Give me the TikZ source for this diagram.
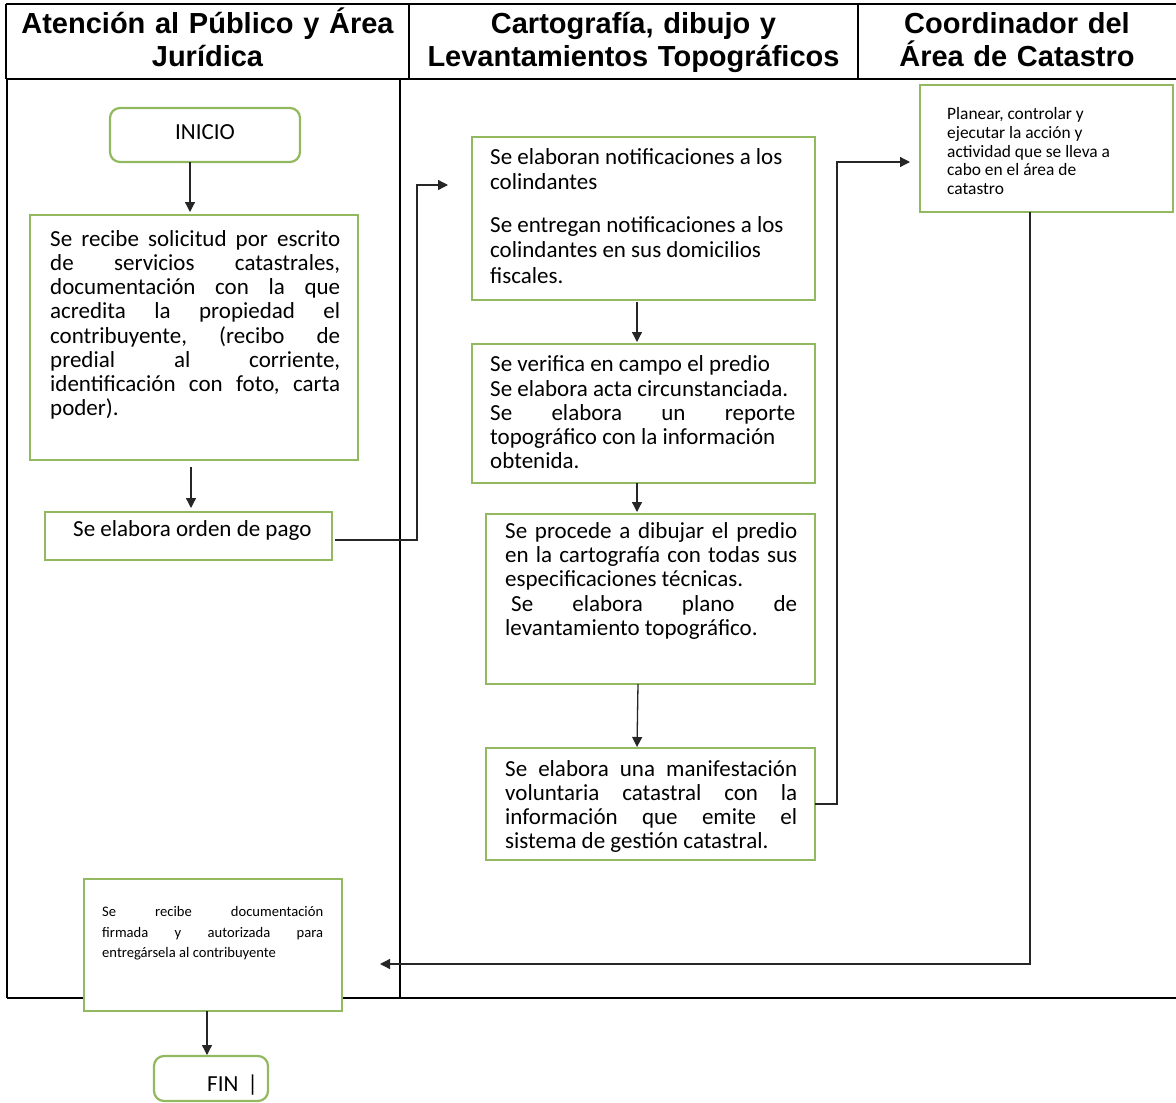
\documentclass[tikz,border=0pt]{standalone}
\usepackage{fontspec}
\setmainfont{Carlito}
\newfontfamily\hdrfont{Liberation Sans}
\usetikzlibrary{arrows.meta}
\definecolor{gboxc}{RGB}{146,184,96}
\newcommand\jl[2]{\makebox[#1][s]{#2}}
\newcommand\topstr[1]{\spaceskip=0pt\relax\xspaceskip=0pt\relax\frenchspacing\rule{0pt}{#1}}
\tikzset{
  gbox/.style={draw=gboxc, line width=2.2pt, fill=white, inner sep=0pt, outer sep=0pt, anchor=north west},
  rbox/.style={gbox, rounded corners=10pt},
  txt/.style={inner sep=0pt, anchor=north west, align=left, text width=360pt, font=\fontsize{23}{24.2}\selectfont},
  hdr/.style={inner sep=0pt, anchor=north, align=center, font=\hdrfont\bfseries\fontsize{29}{33}\selectfont},
  arr/.style={draw=black!85, line width=1.3pt, -{Triangle[length=10pt,width=10pt]}},
  lane/.style={line width=1.3pt},
  hline/.style={line width=2.5pt},
}
\begin{document}
\begin{tikzpicture}[x=1pt,y=-1pt]
\useasboundingbox (0,0) rectangle (1176,1103);
\fill[white] (0,0) rectangle (1176,1103);
% header
\draw[hline] (6,4) -- (1176,4);
\draw[hline] (6,79) -- (1176,79);
\draw[hline] (6,4) -- (6,79);
\draw[hline] (409,4) -- (409,79);
\draw[hline] (858,4) -- (858,79);
\node[hdr, text width=395pt] (h1) at (207.5,5) {\rule{0pt}{28pt}Atención al Público y Área\\Jurídica};
\node[hdr, text width=440pt] (h2) at (633.5,5) {\rule{0pt}{28pt}Cartografía, dibujo y\\Levantamientos Topográficos};
\node[hdr, text width=310pt] (h3) at (1017,5) {\rule{0pt}{28pt}Coordinador del\\Área de Catastro};
% lanes
\draw[lane] (7,79) -- (7,998);
\draw[lane] (400,79) -- (400,998);
\draw[lane] (7,998) -- (1176,998);
% boxes
\node[rbox, minimum width=190pt, minimum height=54pt] (n1) at (110,108) {};
\node[anchor=base, inner sep=0pt, font=\fontsize{23}{24}\selectfont] (tn1) at (205,139) {INICIO};
\node[gbox, minimum width=328pt, minimum height=245pt] (b2) at (30,215) {};
\node[txt] (t2) at (50,226) {\topstr{20pt}\jl{290pt}{Se recibe solicitud por escrito}\\
\jl{290pt}{de servicios catastrales,}\\
\jl{290pt}{documentación con la que}\\
\jl{290pt}{acredita la propiedad el}\\
\jl{290pt}{contribuyente, (recibo de}\\
\jl{290pt}{predial al corriente,}\\
\jl{290pt}{identificación con foto, carta}\\
poder).};
\node[gbox, minimum width=287pt, minimum height=48pt] (b3) at (45,512) {};
\node[anchor=base west, inner sep=0pt, font=\fontsize{23}{24}\selectfont] (t3) at (73,536) {Se elabora orden de pago};
\node[gbox, minimum width=343pt, minimum height=163pt] (b4) at (472,137) {};
\node[txt, font=\fontsize{23}{25.5}\selectfont] (t4) at (490,144) {\topstr{20pt}Se elaboran notificaciones a los\\
colindantes\\[17pt]
Se entregan notificaciones a los\\
colindantes en sus domicilios\\
fiscales.};
\node[gbox, minimum width=343pt, minimum height=139pt] (b5) at (472,344) {};
\node[txt] (t5) at (490,351.7) {\topstr{20pt}Se verifica en campo el predio\\
Se elabora acta circunstanciada.\\
\jl{305pt}{Se elabora un reporte}\\
topográfico con la información\\
obtenida.};
\node[gbox, minimum width=329pt, minimum height=170pt] (b6) at (486,514) {};
\node[txt] (t6) at (505,518.3) {\topstr{20pt}\jl{292pt}{Se procede a dibujar el predio}\\
\jl{292pt}{en la cartografía con todas sus}\\
especificaciones técnicas.\\
\jl{292pt}{\hspace{6pt}Se elabora plano de}\\
levantamiento topográfico.};
\node[gbox, minimum width=329pt, minimum height=112pt] (b7) at (486,748) {};
\node[txt] (t7) at (505,756) {\topstr{20pt}\jl{292pt}{Se elabora una manifestación}\\
\jl{292pt}{voluntaria catastral con la}\\
\jl{292pt}{información que emite el}\\
sistema de gestión catastral.};
\node[gbox, minimum width=253pt, minimum height=127pt] (b8) at (920,85) {};
\node[txt, font=\fontsize{17.4}{18.75}\selectfont] (t8) at (947,103.3) {\topstr{16pt}Planear, controlar y\\
ejecutar la acción y\\
actividad que se lleva a\\
cabo en el área de\\
catastro};
\node[gbox, minimum width=258pt, minimum height=132pt] (b9) at (84,879) {};
\node[txt, font=\fontsize{14.6}{20.3}\selectfont] (t9) at (102,902.7) {\topstr{14pt}\jl{221pt}{Se recibe documentación}\\
\jl{221pt}{firmada y autorizada para}\\
entregársela al contribuyente};
\node[rbox, minimum width=114pt, minimum height=45pt] (fin) at (154,1056) {};
\node[anchor=base west, inner sep=0pt, font=\fontsize{23}{24}\selectfont] (tfin) at (207,1091) {FIN\hspace{9pt}|};
% connectors
\draw[arr] ([xshift=-15pt]n1.south) -- ([xshift=-4pt,yshift=3pt]b2.north);
\draw[arr] ([xshift=-3pt,yshift=-7pt]b2.south) -- ([xshift=2.5pt,yshift=4pt]b3.north);
\draw[arr] ([xshift=3pt,yshift=-4pt]b3.east) -| ([xshift=-55pt,yshift=33.5pt]b4.west) -- ([xshift=-24pt,yshift=33.5pt]b4.west);
\draw[arr] ([xshift=-6.5pt,yshift=-2pt]b4.south) -- ([xshift=-6.5pt,yshift=2pt]b5.north);
\draw[arr] ([xshift=-6.5pt]b5.south) -- ([xshift=-13.5pt,yshift=2pt]b6.north);
\draw[arr] ([xshift=-12.5pt]b6.south) -- ([xshift=-13.5pt,yshift=1pt]b7.north);
\draw[arr] (b7.east) -| ([xshift=-83pt,yshift=-13.5pt]b8.west) -- ([xshift=-10pt,yshift=-13.5pt]b8.west);
\draw[arr] ([xshift=-16.5pt]b8.south) |- ([xshift=38pt,yshift=-19pt]b9.east);
\draw[arr] ([xshift=-6pt]b9.south) -- ([xshift=-4pt,yshift=1pt]fin.north);
\end{tikzpicture}
\end{document}
